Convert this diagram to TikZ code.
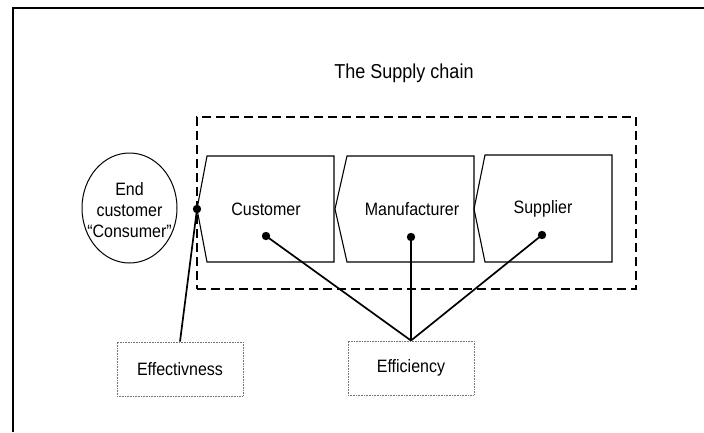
\documentclass[tikz,border=0pt]{standalone}
\usepackage{fontspec}
\setmainfont{Liberation Sans}
\usetikzlibrary{shapes.geometric}
\newcommand{\vstretch}[1]{\scalebox{1}[1.12]{#1}}
\begin{document}
\begin{tikzpicture}[x=1pt,y=-1pt,
  lbl/.style={font=\fontsize{16}{20}\selectfont, inner sep=0pt},
  chevbox/.style={draw, line width=1.1pt, line join=miter},
  conn/.style={line width=1.7pt},
  dotbox/.style={draw=black!55, dash pattern=on 0.8pt off 0.8pt, line width=0.9pt,
                 minimum width=126pt, minimum height=54pt, inner sep=0pt,
                 font=\fontsize{16}{20}\selectfont},
  frameline/.style={line width=2pt}]
\useasboundingbox (0,0) rectangle (704,432);
\fill[white] (0,0) rectangle (704,432);
% outer frame (left and top edges visible)
\draw[frameline] (13,432) -- (13,8) -- (704,8);

% title
\node[font=\fontsize{18}{22}\selectfont, inner sep=0pt] (title) at (404,73) {\vstretch{The Supply chain}};

% dashed supply-chain boundary
\node[draw, dash pattern=on 9pt off 5pt, line width=1.7pt, minimum width=439pt,
      minimum height=172pt, inner sep=0pt] (chain) at (416.5,203) {};

% chevron boxes
\draw[chevbox] (207,156) -- (334,156) -- (334,262) -- (207,262) -- (197,209) -- cycle;
\draw[chevbox] (347,156) -- (474,156) -- (474,262) -- (347,262) -- (335,209) -- cycle;
\draw[chevbox] (485,155) -- (612,155) -- (612,262) -- (485,262) -- (474,209) -- cycle;
\node[lbl] (customer) at (266,209) {\vstretch{Customer}};
\node[lbl] (manufacturer) at (412,209) {\vstretch{Manufacturer}};
\node[lbl] (supplier) at (543,209) {\vstretch{Supplier}};

% end customer ellipse
\node[ellipse, draw, line width=1pt, minimum width=95pt, minimum height=110pt,
      inner sep=0pt] (consumer) at (129.5,208) {};
\node[font=\fontsize{16}{21}\selectfont, align=center, inner sep=0pt] (consumertext) at (129.5,210)
  {\vstretch{End}\\ \vstretch{customer}\\ \vstretch{“Consumer”}};

% measure boxes
\node[dotbox] (effectiveness) at (180,369) {\vstretch{Effectivness}};
\node[dotbox] (efficiency) at (411,368) {\vstretch{Efficiency}};

% dots
\coordinate (tipdot) at (197,209);
\coordinate (custdot) at (266,236);
\coordinate (mandot) at (411,237);
\coordinate (supdot) at (542,235);

% connectors
\draw[conn] (tipdot) -- (effectiveness.north);
\draw[conn] (custdot) -- (efficiency.north);
\draw[conn] (mandot) -- (efficiency.north);
\draw[conn] (supdot) -- (efficiency.north);

\foreach \p in {tipdot,custdot,mandot,supdot}
  \fill (\p) circle (4.2pt);
\end{tikzpicture}
\end{document}
